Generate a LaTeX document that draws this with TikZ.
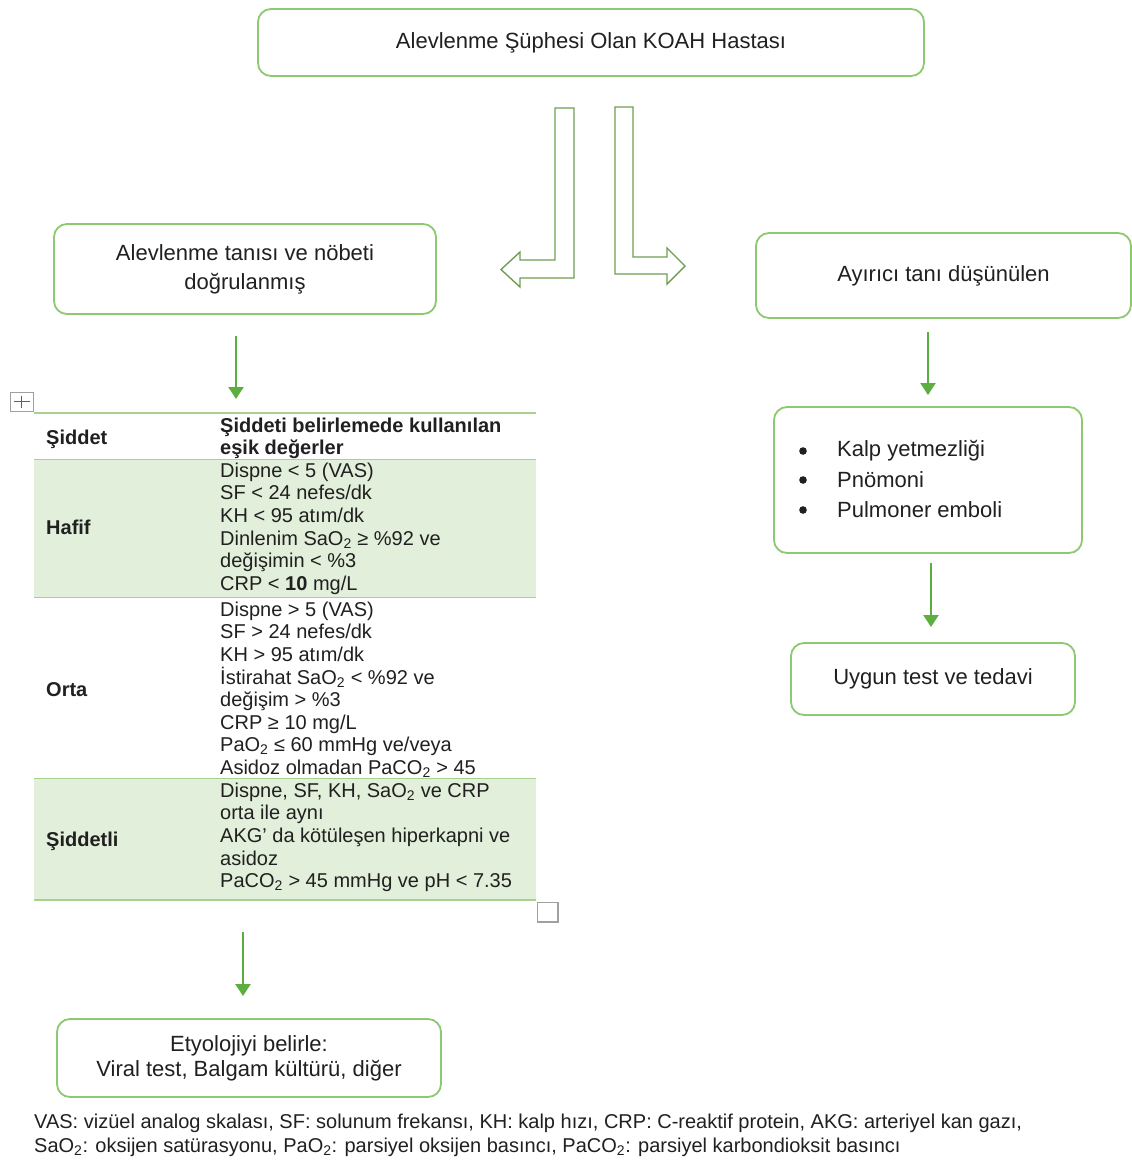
\documentclass[tikz,border=0pt]{standalone}
\usepackage{fontspec}
\setmainfont{Liberation Sans}
\usetikzlibrary{arrows.meta}
\definecolor{boxgreen}{HTML}{8DC971}
\definecolor{arrgreen}{HTML}{5DAE41}
\definecolor{bentgreen}{HTML}{6E9F50}
\definecolor{tabline}{HTML}{A9D18E}
\definecolor{tabfill}{HTML}{E2EFDA}
\definecolor{txt}{HTML}{202020}
\definecolor{icongray}{HTML}{A0A0A0}
\newcommand\stx{\textsubscript{2}}
\newcommand\fl{\rule{0pt}{15pt}}
\begin{document}
\begin{tikzpicture}[x=1pt,y=-1pt,
  fbox/.style={draw=boxgreen, line width=1.8pt, rounded corners=13pt, fill=white, text=txt,
    font=\fontsize{22}{29}\selectfont, align=center, inner sep=0pt},
  garrow/.style={draw=arrgreen, line width=2.4pt, -{Triangle[width=15pt,length=12pt]}},
  bent/.style={draw=bentgreen, line width=1.4pt, fill=white, line join=miter},
  tabtxt/.style={font=\fontsize{20}{22.6}\selectfont, text=txt, align=left, inner sep=0pt, anchor=north west},
  tabhead/.style={tabtxt, font=\fontsize{20}{22}\selectfont\bfseries},
  tablabel/.style={font=\fontsize{20}{22}\selectfont\bfseries, text=txt, inner sep=0pt, anchor=base west},
  tline/.style={draw=tabline, line width=1.6pt},
  foot/.style={font=\fontsize{20}{24}\selectfont, text=txt, inner sep=0pt, anchor=base west}
]
\useasboundingbox[fill=white] (0,0) rectangle (1132,1160);

% boxes
\node[fbox, minimum width=666pt, minimum height=67pt] (top) at (591,42.5) {Alevlenme Şüphesi Olan KOAH Hastası};
\node[fbox, minimum width=382pt, minimum height=90pt] (lbox) at (245,269) {Alevlenme tanısı ve nöbeti\\doğrulanmış};
\node[fbox, minimum width=375pt, minimum height=85pt] (rbox) at (943.5,275.5) {Ayırıcı tanı düşünülen};
\node[fbox, minimum width=308pt, minimum height=146pt] (dbox) at (928,480) {};
\node[fbox, minimum width=284pt, minimum height=72pt] (ubox) at (933,679) {Uygun test ve tedavi};
\node[fbox, minimum width=384pt, minimum height=78pt, font=\fontsize{22}{25}\selectfont] (ebox) at (249,1058) {Etyolojiyi belirle:\\Viral test, Balgam kültürü, diğer};

% bullet list
\foreach \yy/\tt [count=\i] in {451/Kalp yetmezliği, 480/Pnömoni, 510/Pulmoner emboli}{
  \fill[txt] (803,\yy) circle (3.8pt);
  \node[font=\fontsize{22}{29}\selectfont, text=txt, inner sep=0pt, anchor=west] (b\i) at (837,\yy) {\tt};
}

% bent hollow arrows
\draw[bent] (555,108) -- (574,108) -- (574,278) -- (520,278) -- (520,287) -- (501,269.5)
  -- (520,252) -- (520,260) -- (555,260) -- cycle;
\draw[bent] (615,107) -- (633,107) -- (633,257) -- (667,257) -- (667,248) -- (685,266)
  -- (667,284) -- (667,274) -- (615,274) -- cycle;

% straight arrows
\coordinate (a1s) at (236,336); \coordinate (a1e) at (236,399);
\coordinate (a2s) at (243,932); \coordinate (a2e) at (243,996);
\coordinate (a3s) at (928,332); \coordinate (a3e) at (928,395);
\coordinate (a4s) at (931,563); \coordinate (a4e) at (931,627);
\draw[garrow] (a1s) -- (a1e);
\draw[garrow] (a2s) -- (a2e);
\draw[garrow] (a3s) -- (a3e);
\draw[garrow] (a4s) -- (a4e);

% table
\fill[tabfill] (34,460) rectangle (536,597);
\fill[tabfill] (34,779) rectangle (536,900);
\draw[tline] (34,413) -- (536,413);
\draw[tline] (34,459.5) -- (536,459.5);
\draw[tline] (34,597.5) -- (536,597.5);
\draw[tline] (34,778.5) -- (536,778.5);
\draw[tline] (34,900) -- (536,900);

\node[tablabel] (h1) at (46,444) {Şiddet};
\node[tabhead] (h2) at (220,417) {\fl Şiddeti belirlemede kullanılan\\eşik değerler};

\node[tablabel] (l1) at (46,534) {Hafif};
\node[tabtxt] (c1) at (220,462) {\fl Dispne < 5 (VAS)\\SF < 24 nefes/dk\\KH < 95 atım/dk\\Dinlenim SaO\stx{} ≥ \%92 ve\\değişimin < \%3\\CRP < \textbf{10} mg/L};

\node[tablabel] (l2) at (46,696) {Orta};
\node[tabtxt] (c2) at (220,601) {\fl Dispne > 5 (VAS)\\SF > 24 nefes/dk\\KH > 95 atım/dk\\İstirahat SaO\stx{} < \%92 ve\\değişim > \%3\\CRP ≥ 10 mg/L\\PaO\stx{} ≤ 60 mmHg ve/veya\\Asidoz olmadan PaCO\stx{} > 45};

\node[tablabel] (l3) at (46,846) {Şiddetli};
\node[tabtxt] (c3) at (220,782) {\fl Dispne, SF, KH, SaO\stx{} ve CRP\\orta ile aynı\\AKG’ da kötüleşen hiperkapni ve\\asidoz\\PaCO\stx{} > 45 mmHg ve pH < 7.35};

% word table handles
\draw[icongray, line width=1pt] (10.5,392.5) rectangle (33,411);
\draw[icongray!60!black, line width=0.9pt] (21.75,395.5) -- (21.75,408) (14,401.75) -- (29.5,401.75);
\draw[icongray, line width=1.2pt] (537.5,902.5) rectangle (558,922);

% footer
\node[foot] (f1) at (34,1128) {VAS: vizüel analog skalası, SF: solunum frekansı, KH: kalp hızı, CRP: C-reaktif protein, AKG: arteriyel kan gazı,};
\node[foot] (f2) at (34,1152) {SaO\stx: oksijen satürasyonu, PaO\stx: parsiyel oksijen basıncı, PaCO\stx: parsiyel karbondioksit basıncı};
\end{tikzpicture}
\end{document}
